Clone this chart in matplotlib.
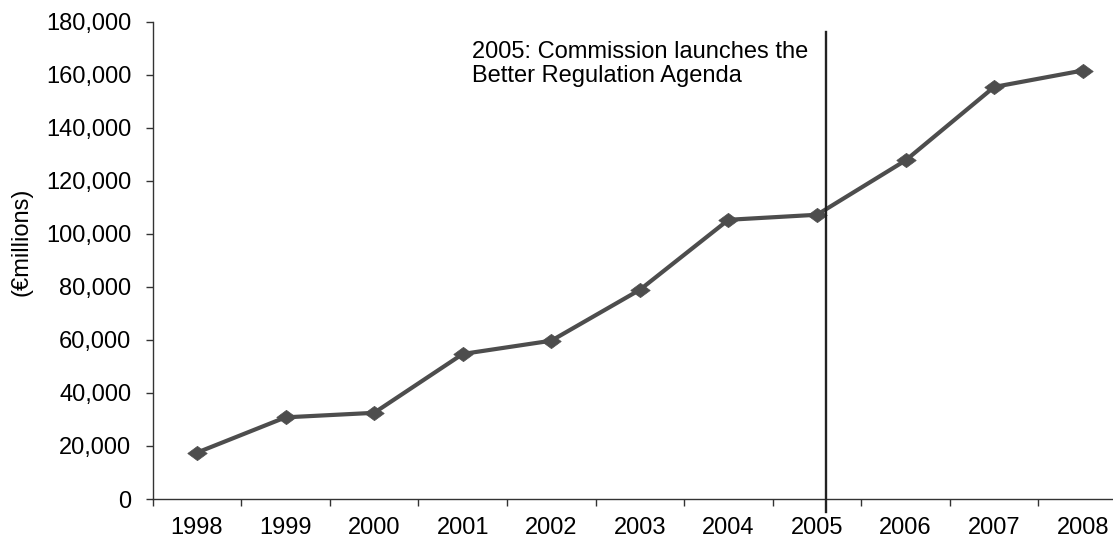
import matplotlib
matplotlib.use("Agg")
from matplotlib import pyplot as plt
from matplotlib.ticker import FuncFormatter
import numpy as np

plt.rcParams['font.family'] = ['Liberation Sans', 'DejaVu Sans']

years = ["1998", "1999", "2000", "2001", "2002", "2003", "2004", "2005", "2006", "2007", "2008"]
values = [17500, 30800, 32500, 54700, 59700, 78900, 105300, 107200, 127700, 155400, 161600]
y_ticks = [0, 20000, 40000, 60000, 80000, 100000, 120000, 140000, 160000, 180000]
marker_year = 7.1      # vertical line position (category units)
note = "2005: Commission launches the\nBetter Regulation Agenda"

fs = 17
fig = plt.figure(figsize=(11.13, 5.39), dpi=100)
ax = fig.add_axes([0.1372, 0.0742, 0.8754, 0.8855])

# slightly flattened diamond like the original
diamond = [(-1.36, 0), (0, 1), (1.36, 0), (0, -1), (-1.36, 0)]
x = np.arange(len(years))
ax.plot(x, values, color="#4d4d4d", linewidth=3, marker=diamond, markersize=14,
        markerfacecolor="#4d4d4d", markeredgecolor="#4d4d4d", markeredgewidth=0.5,
        zorder=3)

# event line, runs a bit below the axis
ax.plot([marker_year, marker_year], [-4900, 176200], color="#222222", linewidth=1.7,
        clip_on=False, zorder=4)
ax.text(3.1, 172600, note, fontsize=fs, va="top", ha="left", linespacing=1.1)

ax.set_xlim(-0.5, len(years) - 0.5)
ax.set_ylim(0, 180000)
ax.set_xticks(x)
ax.set_xticklabels(years, fontsize=fs)
ax.set_xticks(np.arange(-0.5, len(years), 1), minor=True)
ax.tick_params(axis="x", which="major", length=0, pad=13)
ax.tick_params(axis="x", which="minor", length=5, width=1, color="#333333")
ax.set_yticks(y_ticks)
ax.yaxis.set_major_formatter(FuncFormatter(lambda v, p: f"{int(v):,}"))
ax.tick_params(axis="y", length=5, width=1, color="#333333", labelsize=fs, pad=10.5)
ax.set_ylabel("(€millions)", fontsize=fs)
ax.yaxis.set_label_coords(-0.123, 0.538)

for s in ["top", "right"]:
    ax.spines[s].set_visible(False)
for s in ["left", "bottom"]:
    ax.spines[s].set_color("#333333")
    ax.spines[s].set_linewidth(1)

fig.savefig("out.png", dpi=100)
